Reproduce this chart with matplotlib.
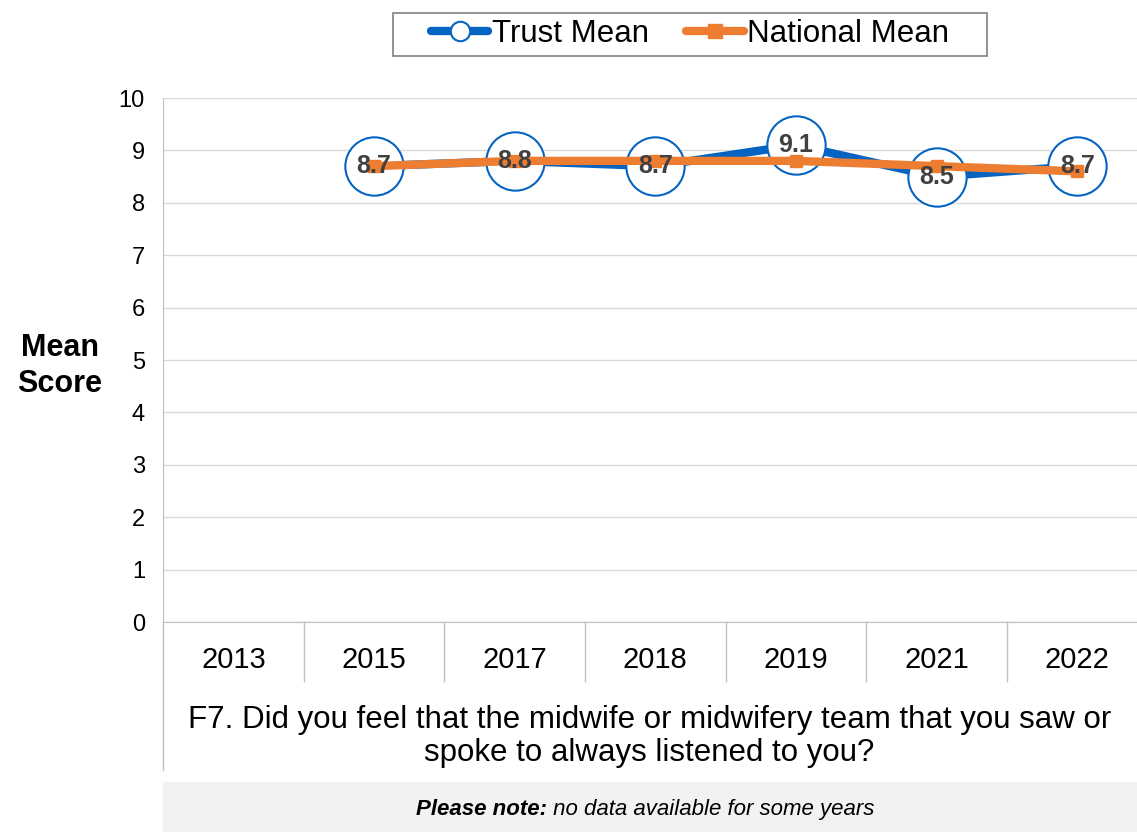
import matplotlib
matplotlib.use("Agg")
import matplotlib.pyplot as plt
from matplotlib.lines import Line2D
import numpy as np

plt.rcParams['font.family'] = ['Liberation Sans', 'DejaVu Sans']

years = ["2013", "2015", "2017", "2018", "2019", "2021", "2022"]
trust_mean = [np.nan, 8.7, 8.8, 8.7, 9.1, 8.5, 8.7]
national_mean = [np.nan, 8.7, 8.8, 8.8, 8.8, 8.7, 8.6]
question = ("F7. Did you feel that the midwife or midwifery team that you saw or\n"
            "spoke to always listened to you?")

BLUE = "#0563C1"
ORANGE = "#ED7D31"
GRID = "#D9D9D9"
AXIS = "#BFBFBF"

fig = plt.figure(figsize=(11.37, 8.32), dpi=100)
ax = fig.add_axes([0.1434, 0.2524, 0.866, 0.6298])

x = np.arange(len(years))
ax.plot(x, trust_mean, color=BLUE, lw=6, marker="o", ms=42, mfc="white",
        mec=BLUE, mew=1.5, zorder=3)
ax.plot(x, national_mean, color=ORANGE, lw=6, marker="s", ms=9, zorder=4)

for xi, v in zip(x, trust_mean):
    if not np.isnan(v):
        ax.text(xi, v, f"{v:.1f}", ha="center", va="center", fontsize=18,
                fontweight="bold", color="#404040", zorder=5)

ax.set_xlim(-0.5, len(years) - 0.5)
ax.set_ylim(0, 10)
ax.set_yticks(range(0, 11))
ax.tick_params(axis="y", length=0, labelsize=17, pad=13)
ax.set_xticks([])
ax.yaxis.grid(True, color=GRID, lw=1)
ax.set_axisbelow(True)
for s in ["top", "right"]:
    ax.spines[s].set_visible(False)
ax.spines["bottom"].set_color(AXIS)
ax.spines["left"].set_color(AXIS)

ax.set_ylabel("Mean\nScore", rotation=0, fontsize=22, fontweight="bold",
              labelpad=0, va="center", ha="center", linespacing=1.25)
ax.yaxis.set_label_coords(-0.105, 0.488)

# category labels below the axis with separators
trans = ax.get_xaxis_transform()
for xi, yr in zip(x, years):
    ax.text(xi, -0.072, yr, transform=trans, ha="center", va="center", fontsize=21)
for k in range(1, len(years)):
    ax.add_line(Line2D([k - 0.5, k - 0.5], [0, -0.112], transform=trans,
                       color=AXIS, lw=1, clip_on=False))
ax.add_line(Line2D([-0.5, -0.5], [0, -0.282], transform=trans,
                   color=AXIS, lw=1, clip_on=False))

ax.text(0.494, -0.218, question, transform=ax.transAxes, ha="center",
        va="center", fontsize=22.5, linespacing=1.12)

# note box along the bottom
fig.patches.append(plt.Rectangle((0.1434, 0.0), 0.86, 0.06, transform=fig.transFigure,
                                 color="#F2F2F2", zorder=0))
t1 = fig.text(0, 0.027, "Please note:", ha="left", va="center", fontsize=16,
              fontweight="bold", style="italic")
t2 = fig.text(0, 0.027, " no data available for some years", ha="left",
              va="center", fontsize=16, style="italic")
fig.canvas.draw()
r = fig.canvas.get_renderer()
w1 = t1.get_window_extent(r).width / fig.bbox.width
w2 = t2.get_window_extent(r).width / fig.bbox.width
x0 = 645 / 1137 - (w1 + w2) / 2
t1.set_x(x0)
t2.set_x(x0 + w1)

# legend with a wider frame drawn separately
fig.patches.append(plt.Rectangle((0.3456, 0.9327), 0.5224, 0.0517,
                                 transform=fig.transFigure, fill=False,
                                 edgecolor="#808080", lw=1.2))
handles = [
    Line2D([], [], color=BLUE, lw=6, marker="o", ms=14, mfc="white", mec=BLUE,
           mew=1.5, solid_capstyle="round"),
    Line2D([], [], color=ORANGE, lw=6, marker="s", ms=10, solid_capstyle="round"),
]
ax.legend(handles, ["Trust Mean", "National Mean"], loc="center",
          bbox_to_anchor=(0.535, 1.122), ncol=2, fontsize=22.5,
          frameon=False, handlelength=1.85, handletextpad=0.1,
          columnspacing=1.2, borderpad=0.25)

fig.savefig("out.png", dpi=100)
